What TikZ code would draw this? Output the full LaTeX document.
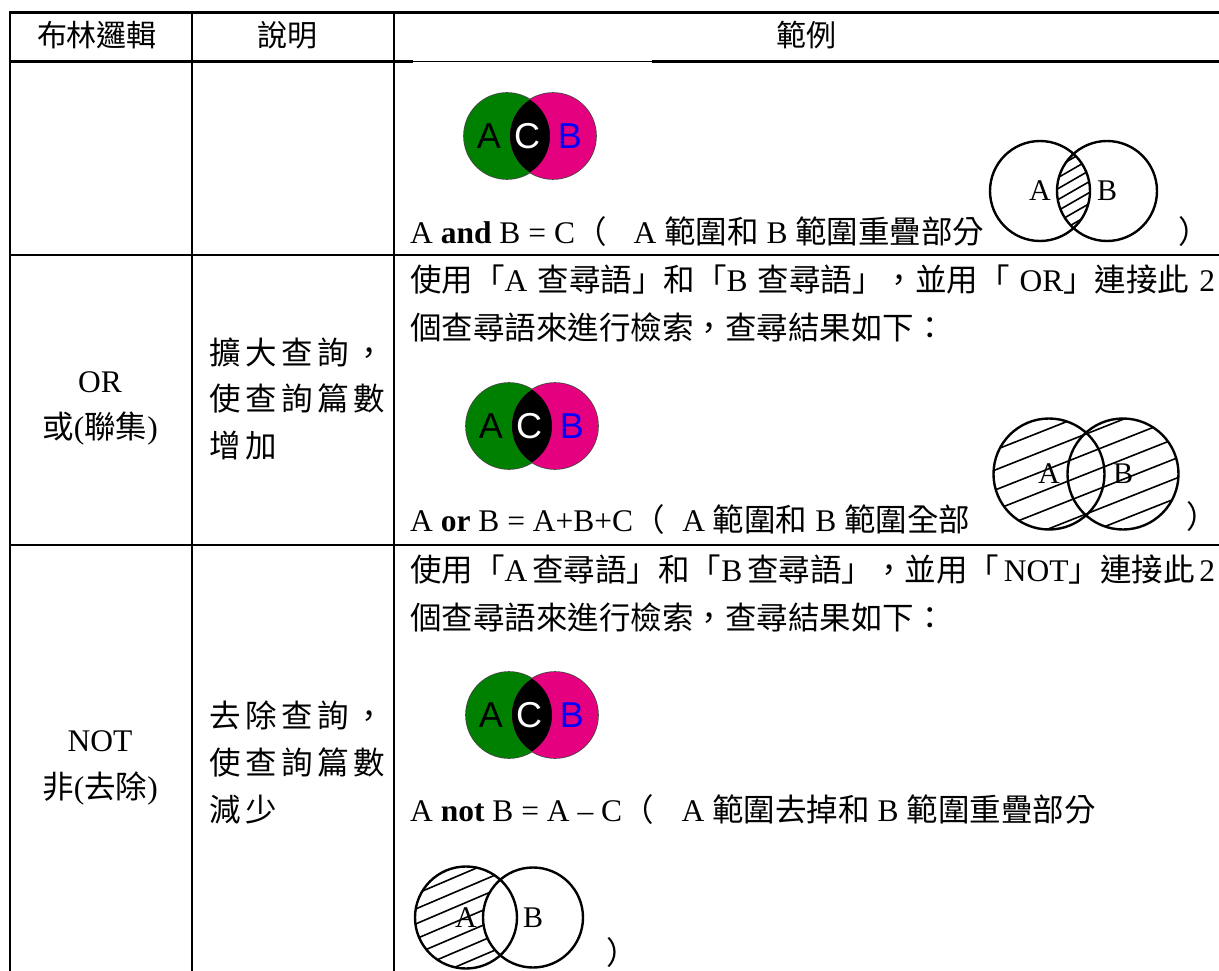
\documentclass[tikz,border=0pt]{standalone}
\usepackage{fontspec}
\setmainfont{Liberation Serif}
\newfontfamily\tc{Noto Sans CJK TC}
\newfontfamily\ars{Liberation Sans}
\definecolor{vgreen}{RGB}{0,128,0}
\definecolor{vpink}{RGB}{228,0,126}
\definecolor{vblue}{RGB}{0,0,255}
\definecolor{vedge}{RGB}{70,70,70}
\newcommand\lsp{\hspace{4.7pt}}
\begin{document}
\begin{tikzpicture}[x=1pt,y=-1pt,
  rule/.style={line width=2.7pt, line cap=rect},
  thinrule/.style={line width=1.2pt},
  body/.style={inner sep=0pt, anchor=base west, font=\fontsize{31.5}{38}\selectfont},
  lbl/.style={inner sep=0pt, anchor=base, font=\fontsize{31.5}{38}\selectfont},
  head/.style={inner sep=0pt, anchor=base, font=\tc\fontsize{30}{36}\selectfont},
  vlet/.style={inner sep=0pt, font=\ars\fontsize{36}{36}\selectfont},
  olet/.style={inner sep=0pt, font=\fontsize{30}{30}\selectfont},
  ring/.style={line width=2.4pt},
  hatch/.style={line width=1.6pt},
  cvenn/.pic={
    \fill[vedge] (0,0) circle (43.8);
    \fill[vedge] (46,0) circle (43.8);
    \fill[vgreen] (0,0) circle (43);
    \fill[vpink] (46,0) circle (43);
    \begin{scope}\clip (0,0) circle (43); \fill[black] (46,0) circle (43);\end{scope}
    \node[vlet] (-a) at (-18,0) {A};
    \node[vlet, text=white] (-c) at (20,0) {C};
    \node[vlet, text=vblue] (-b) at (63,0) {B};
  }]
\useasboundingbox (0,0) rectangle (1219,971);
\fill[white] (0,0) rectangle (1219,971);

% ---------- table rules ----------
\draw[rule] (10,12.7) -- (1219,12.7);
\draw[rule] (10,61.7) -- (412,61.7);
\draw[thinrule] (412,61.7) -- (653,61.7);
\draw[rule] (653,61.7) -- (1219,61.7);
\draw[rule] (10,255) -- (1219,255);
\draw[rule] (10,545) -- (1219,545);
\draw[rule] (10,12.7) -- (10,975);
\draw[rule] (192,12.7) -- (192,975);
\draw[rule] (394,12.7) -- (394,975);

% ---------- header ----------
\node[head] (h1) at (97,47) {布林邏輯};
\node[head] (h2) at (287,47) {說明};
\node[head] (h3) at (806,47) {範例};

% ---------- AND row ----------
\pic (v1) at (507,136) {cvenn};
\node[body] (andtxt) at (410,243.5) {A \textbf{and} B = C{\tc （}\hspace{27pt}A {\tc 範圍和} B {\tc 範圍重疊部分}};
\coordinate (ga) at (1040,191);
\coordinate (gb) at (1107,191);
\begin{scope}
  \clip (ga) circle (50);
  \clip (gb) circle (50);
  \foreach \k in {-6,...,6} \draw[hatch] (993,191+\k*11+46) -- (1153,191+\k*11-46);
\end{scope}
\draw[ring] (ga) circle (50);
\draw[ring] (gb) circle (50);
\node[olet] (andA) at (ga) {A};
\node[olet] (andB) at (gb) {B};
\node[body] (andclose) at (1178.7,243.5) {\tc ）};

% ---------- OR row ----------
\node[lbl] (orlab) at (100,392.5) {OR};
\node[lbl] (orsub) at (100,438.5) {{\tc 或}({\tc 聯集})};
\node[body] (ord1) at (209,364.5) {\tc 擴\lsp 大\lsp 查\lsp 詢\lsp ，};
\node[body] (ord2) at (209,410.5) {\tc 使\lsp 查\lsp 詢\lsp 篇\lsp 數};
\node[body] (ord3) at (209,457.5) {\tc 增\lsp 加};
\node[body] (orl1) at (410,291.5) {\makebox[805pt][l]{{\tc 使用「}A\hfill{\tc 查尋語」和「}B\hfill{\tc 查尋語」，並用「}\hfill OR{\tc 」連接此}\hfill 2}};
\node[body] (orl2) at (410,339.5) {\tc 個查尋語來進行檢索，查尋結果如下：};
\pic (v2) at (509,426) {cvenn};
\node[body] (ortxt) at (410,531.5) {A \textbf{or} B = A+B+C{\tc （}\hspace{17.5pt}A {\tc 範圍和} B {\tc 範圍全部}};
\coordinate (oa) at (1049,474);
\coordinate (ob) at (1123,474);
\begin{scope}
  \clip (oa) circle (55.5) (ob) circle (55.5);
  \foreach \k in {-6,...,6} \draw[hatch] (990,474+\k*20+38) -- (1182,474+\k*20-38);
\end{scope}
\draw[ring] (oa) circle (55.5);
\draw[ring] (ob) circle (55.5);
\node[olet] (orA) at (oa) {A};
\node[olet] (orB) at (ob) {B};
\node[body] (orclose) at (1186.7,528.5) {\tc ）};

% ---------- NOT row ----------
\node[lbl] (notlab) at (100,751.5) {NOT};
\node[lbl] (notsub) at (100,798.5) {{\tc 非}({\tc 去除})};
\node[body] (notd1) at (209,727.5) {\tc 去\lsp 除\lsp 查\lsp 詢\lsp ，};
\node[body] (notd2) at (209,774.5) {\tc 使\lsp 查\lsp 詢\lsp 篇\lsp 數};
\node[body] (notd3) at (209,821.5) {\tc 減\lsp 少};
\node[body] (notl1) at (410,581.5) {\makebox[805pt][l]{{\tc 使用「}A\hfill{\tc 查尋語」和「}B\hfill{\tc 查尋語」，並用「}\hfill NOT{\tc 」連接此}\hfill 2}};
\node[body] (notl2) at (410,629.5) {\tc 個查尋語來進行檢索，查尋結果如下：};
\pic (v3) at (509,715) {cvenn};
\node[body] (nottxt) at (410,821.5) {A \textbf{not} B = A – C{\tc （}\hspace{28pt}A {\tc 範圍去掉和} B {\tc 範圍重疊部分}};
\coordinate (na) at (466,917.5);
\coordinate (nb) at (533,917.5);
\begin{scope}
  \clip (na) circle (51);
  \foreach \k in {-7,...,7} \draw[hatch] (405,917.5+\k*15+26) -- (527,917.5+\k*15-26);
  \fill[white] (nb) circle (50);
\end{scope}
\draw[ring] (na) circle (51);
\draw[ring] (nb) circle (50);
\node[olet] (notA) at (na) {A};
\node[olet] (notB) at (nb) {B};
\node[body] (notclose) at (606.7,964.5) {\tc ）};
\end{tikzpicture}
\end{document}
